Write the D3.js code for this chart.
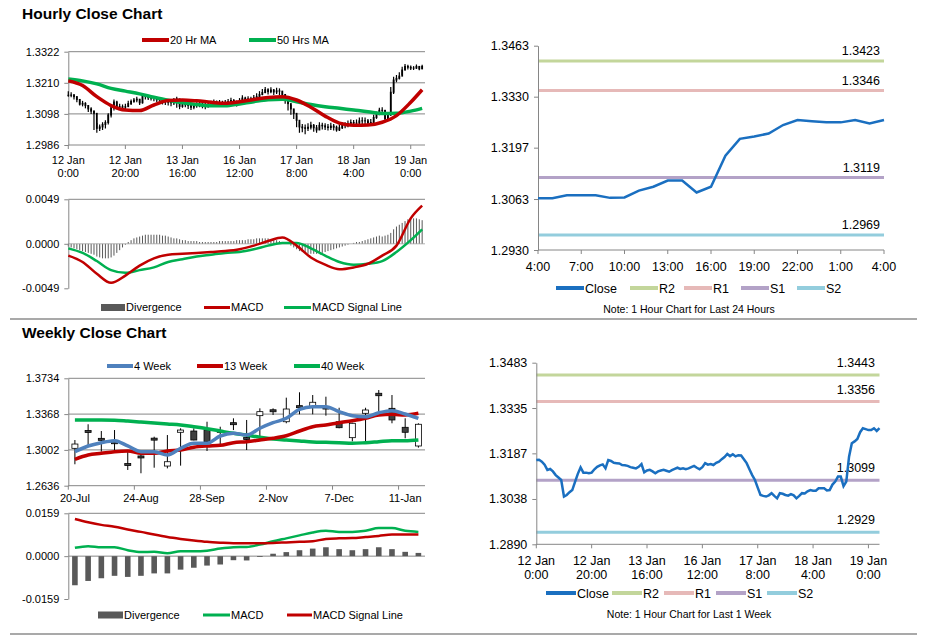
<!DOCTYPE html>
<html><head><meta charset="utf-8">
<script src="https://cdn.jsdelivr.net/npm/d3@7"></script>
<style>
html,body{margin:0;padding:0;background:#fff;}
svg{display:block;font-family:"Liberation Sans",Arial,sans-serif;}
</style></head><body>
<svg id="c" width="928" height="638"></svg>
<script>
// ---------------- DATA ----------------
const hourTickIndex = [0,20,40,60,80,100,120];
const hourTickLabels = [["12 Jan","0:00"],["12 Jan","20:00"],["13 Jan","16:00"],["16 Jan","12:00"],["17 Jan","8:00"],["18 Jan","4:00"],["19 Jan","0:00"]];
const hourlyClose = [
1.3165,1.3166,1.3160,1.3150,1.3133,1.3136,1.3128,1.3116,1.3108,1.3100,
1.3046,1.3051,1.3060,1.3067,1.3094,1.3120,1.3141,1.3124,1.3124,1.3122,
1.3124,1.3135,1.3143,1.3148,1.3151,1.3138,1.3165,1.3162,1.3156,1.3155,
1.3154,1.3149,1.3148,1.3146,1.3142,1.3140,1.3138,1.3143,1.3152,1.3125,
1.3131,1.3133,1.3128,1.3122,1.3128,1.3131,1.3133,1.3130,1.3127,1.3132,
1.3136,1.3140,1.3136,1.3138,1.3135,1.3138,1.3142,1.3146,1.3140,1.3135,
1.3142,1.3155,1.3150,1.3152,1.3149,1.3156,1.3160,1.3168,1.3175,1.3185,
1.3178,1.3184,1.3177,1.3181,1.3180,1.3168,1.3155,1.3135,1.3116,1.3100,
1.3075,1.3051,1.3048,1.3046,1.3050,1.3057,1.3048,1.3040,1.3057,1.3055,
1.3051,1.3049,1.3054,1.3050,1.3040,1.3048,1.3057,1.3056,1.3063,1.3067,
1.3065,1.3065,1.3073,1.3073,1.3073,1.3066,1.3067,1.3085,1.3095,1.3111,
1.3111,1.3080,1.3095,1.3176,1.3220,1.3226,1.3234,1.3256,1.3269,1.3266,
1.3263,1.3263,1.3269,1.3260,1.3269];
const hourlyHigh = [
1.3180,1.3176,1.3170,1.3162,1.3152,1.3145,1.3140,1.3130,1.3122,1.3110,
1.3065,1.3060,1.3068,1.3075,1.3100,1.3128,1.3150,1.3145,1.3135,1.3132,
1.3135,1.3145,1.3150,1.3155,1.3160,1.3152,1.3168,1.3170,1.3165,1.3162,
1.3160,1.3158,1.3156,1.3155,1.3152,1.3150,1.3148,1.3155,1.3160,1.3140,
1.3140,1.3142,1.3138,1.3132,1.3136,1.3140,1.3142,1.3140,1.3138,1.3142,
1.3145,1.3150,1.3146,1.3148,1.3145,1.3148,1.3152,1.3156,1.3152,1.3146,
1.3155,1.3165,1.3160,1.3162,1.3160,1.3166,1.3172,1.3180,1.3188,1.3195,
1.3190,1.3194,1.3188,1.3192,1.3190,1.3180,1.3168,1.3150,1.3130,1.3115,
1.3090,1.3068,1.3062,1.3060,1.3064,1.3070,1.3062,1.3058,1.3068,1.3066,
1.3064,1.3062,1.3066,1.3062,1.3056,1.3060,1.3068,1.3068,1.3074,1.3078,
1.3076,1.3078,1.3085,1.3086,1.3085,1.3080,1.3080,1.3095,1.3106,1.3120,
1.3122,1.3112,1.3105,1.3195,1.3232,1.3238,1.3248,1.3268,1.3278,1.3275,
1.3272,1.3270,1.3276,1.3270,1.3275];
const hourlyLow = [
1.3160,1.3158,1.3150,1.3140,1.3128,1.3125,1.3118,1.3105,1.3098,1.3040,
1.3030,1.3036,1.3040,1.3045,1.3060,1.3085,1.3110,1.3115,1.3112,1.3110,
1.3115,1.3125,1.3130,1.3138,1.3140,1.3130,1.3135,1.3150,1.3148,1.3146,
1.3144,1.3140,1.3138,1.3132,1.3130,1.3128,1.3126,1.3130,1.3120,1.3115,
1.3120,1.3122,1.3116,1.3112,1.3115,1.3120,1.3122,1.3118,1.3115,1.3120,
1.3126,1.3128,1.3125,1.3127,1.3124,1.3126,1.3130,1.3135,1.3128,1.3125,
1.3130,1.3140,1.3138,1.3140,1.3138,1.3145,1.3150,1.3158,1.3165,1.3172,
1.3168,1.3172,1.3166,1.3170,1.3165,1.3150,1.3135,1.3110,1.3095,1.3080,
1.3050,1.3030,1.3032,1.3025,1.3036,1.3042,1.3034,1.3030,1.3040,1.3042,
1.3040,1.3038,1.3040,1.3038,1.3034,1.3036,1.3044,1.3046,1.3050,1.3055,
1.3052,1.3054,1.3060,1.3062,1.3060,1.3055,1.3056,1.3066,1.3080,1.3095,
1.3098,1.3070,1.3075,1.3090,1.3170,1.3212,1.3222,1.3238,1.3255,1.3258,
1.3256,1.3256,1.3260,1.3255,1.3260];
const maIndex = [0,5,10,15,20,25,30,35,40,45,50,55,60,65,70,75,80,85,90,95,100,105,110,115,120,124];
const ma20Hr = [1.3217,1.3200,1.3160,1.3128,1.3112,1.3110,1.3130,1.3146,1.3148,1.3145,1.3140,1.3136,1.3142,1.3150,1.3157,1.3160,1.3148,1.3122,1.3090,1.3065,1.3057,1.3058,1.3068,1.3092,1.3140,1.3185];
const ma50Hr = [1.3224,1.3217,1.3206,1.3190,1.3180,1.3170,1.3158,1.3147,1.3138,1.3132,1.3127,1.3127,1.3134,1.3142,1.3149,1.3151,1.3142,1.3132,1.3124,1.3118,1.3112,1.3106,1.3099,1.3100,1.3108,1.3118];
const hourlyMacd = [-0.0013,-0.0020,-0.0033,-0.0043,-0.0035,-0.0024,-0.0016,-0.0012,-0.0011,-0.0010,-0.0009,-0.0008,-0.0006,-0.0002,0.0003,0.0007,-0.0002,-0.0015,-0.0023,-0.0028,-0.0026,-0.0022,-0.0013,-0.0002,0.0028,0.0042];
const hourlySignal = [-0.0005,-0.0010,-0.0019,-0.0029,-0.0032,-0.0029,-0.0026,-0.0020,-0.0017,-0.0014,-0.0012,-0.0010,-0.0009,-0.0006,-0.0002,0.0001,0.0001,-0.0005,-0.0013,-0.0020,-0.0023,-0.0022,-0.0019,-0.0009,0.0004,0.0016];
const hourlyDivergence = [
-0.0003,-0.0004,-0.0005,-0.0006,-0.0007,-0.0008,-0.0009,-0.0010,-0.0011,-0.0012,
-0.0014,-0.0015,-0.0016,-0.0016,-0.0016,-0.0015,-0.0013,-0.0010,-0.0007,-0.0004,
-0.0001,0.0002,0.0004,0.0006,0.0007,0.0008,0.0009,0.0010,0.0010,0.0010,
0.0010,0.0010,0.0010,0.0009,0.0009,0.0008,0.0007,0.0006,0.0006,0.0005,
0.0004,0.0004,0.0003,0.0003,0.0003,0.0003,0.0002,0.0002,0.0002,0.0002,
0.0002,0.0002,0.0002,0.0003,0.0003,0.0003,0.0003,0.0003,0.0003,0.0004,
0.0004,0.0004,0.0004,0.0005,0.0005,0.0005,0.0006,0.0006,0.0006,0.0006,
0.0006,0.0005,0.0005,0.0004,0.0003,0.0002,0.0001,0.0000,-0.0002,-0.0004,
-0.0006,-0.0008,-0.0009,-0.0010,-0.0011,-0.0011,-0.0011,-0.0011,-0.0010,-0.0010,
-0.0009,-0.0008,-0.0007,-0.0006,-0.0005,-0.0004,-0.0003,-0.0002,-0.0001,0.0000,
0.0001,0.0002,0.0002,0.0003,0.0004,0.0005,0.0006,0.0007,0.0008,0.0009,
0.0008,0.0009,0.0010,0.0012,0.0016,0.0019,0.0021,0.0023,0.0025,0.0027,
0.0028,0.0028,0.0028,0.0027,0.0026];
const hourlyTicks = [1.2986,1.3098,1.3210,1.3322];
const hourlyMacdTicks = [-0.0049,0,0.0049];

const dayStartIndex = 100;
const dayTickIndex = [0,3,6,9,12,15,18,21,24];
const dayTickLabels = ["4:00","7:00","10:00","13:00","16:00","19:00","22:00","1:00","4:00"];
const dayTicks = [1.2930,1.3063,1.3197,1.3330,1.3463];
const levelNames = ["R2","R1","S1","S2"];
const dayLevels = [1.3423,1.3346,1.3119,1.2969];
const weekLevels = [1.3443,1.3356,1.3099,1.2929];
const weekHourTicks = [1.2890,1.3038,1.3187,1.3335,1.3483];

const weekCategories = ["20-Jul","27-Jul","3-Aug","10-Aug","17-Aug","24-Aug","31-Aug","7-Sep","14-Sep","21-Sep","28-Sep","5-Oct","12-Oct","19-Oct","26-Oct","2-Nov","9-Nov","16-Nov","23-Nov","30-Nov","7-Dec","14-Dec","21-Dec","28-Dec","4-Jan","11-Jan","18-Jan"];
const weekLabelEvery = 5;
const weekOpen  = [1.3018,1.3190,1.3110,1.3100,1.2852,1.2930,1.3112,1.2837,1.3182,1.3195,1.3205,1.3192,1.3270,1.3118,1.3352,1.3402,1.3290,1.3444,1.3444,1.3430,1.3290,1.3127,1.3376,1.3581,1.3427,1.3233,1.3042];
const weekHigh  = [1.3103,1.3264,1.3195,1.3205,1.2984,1.2984,1.3137,1.3154,1.3223,1.3223,1.3290,1.3239,1.3325,1.3308,1.3427,1.3427,1.3536,1.3591,1.3563,1.3546,1.3433,1.3280,1.3433,1.3614,1.3563,1.3325,1.3274];
const weekLow   = [1.2855,1.3035,1.2984,1.3001,1.2797,1.2763,1.2820,1.2813,1.2841,1.3100,1.2991,1.3052,1.3205,1.3001,1.3137,1.3359,1.3274,1.3366,1.3366,1.3352,1.3223,1.3090,1.3086,1.3400,1.3274,1.3121,1.3025];
const weekClose = [1.3062,1.3185,1.3090,1.3065,1.2845,1.2922,1.3105,1.2881,1.3205,1.3103,1.3086,1.3185,1.3264,1.3110,1.3393,1.3397,1.3420,1.3436,1.3489,1.3425,1.3229,1.3274,1.3410,1.3556,1.3308,1.3182,1.3264];
const ma4Week  = [1.2984,1.3042,1.3076,1.3096,1.3042,1.2984,1.2984,1.2950,1.3018,1.3069,1.3069,1.3144,1.3172,1.3154,1.3223,1.3280,1.3325,1.3417,1.3444,1.3444,1.3393,1.3352,1.3341,1.3382,1.3403,1.3369,1.3325];
const ma13Week = [1.2906,1.2950,1.2967,1.2984,1.2991,1.2967,1.2967,1.2991,1.3001,1.3029,1.3042,1.3049,1.3076,1.3086,1.3103,1.3121,1.3147,1.3195,1.3239,1.3257,1.3280,1.3300,1.3325,1.3359,1.3366,1.3359,1.3376];
const ma40Week = [1.3308,1.3308,1.3308,1.3306,1.3297,1.3287,1.3277,1.3267,1.3257,1.3239,1.3219,1.3195,1.3172,1.3154,1.3131,1.3113,1.3103,1.3093,1.3083,1.3079,1.3076,1.3069,1.3076,1.3086,1.3096,1.3096,1.3103];
const weeklyMacd = [0.0031,0.0037,0.0033,0.0033,0.0022,0.0015,0.0016,0.0011,0.0018,0.0018,0.0020,0.0028,0.0033,0.0034,0.0043,0.0055,0.0066,0.0077,0.0088,0.0094,0.0090,0.0090,0.0094,0.0104,0.0104,0.0094,0.0090];
const weeklySignal = [0.0138,0.0126,0.0116,0.0109,0.0099,0.0090,0.0080,0.0071,0.0064,0.0058,0.0053,0.0050,0.0048,0.0048,0.0048,0.0049,0.0051,0.0053,0.0055,0.0064,0.0066,0.0067,0.0071,0.0075,0.0080,0.0080,0.0080];
const weeklyDivergence = [-0.0108,-0.0092,-0.0082,-0.0073,-0.0077,-0.0073,-0.0064,-0.0064,-0.0050,-0.0043,-0.0035,-0.0031,-0.0015,-0.0016,-0.0003,0.0009,0.0015,0.0022,0.0028,0.0033,0.0026,0.0022,0.0026,0.0033,0.0026,0.0016,0.0012];
const weeklyTicks = [1.2636,1.3002,1.3368,1.3734];
const weeklyMacdTicks = [-0.0159,0,0.0159];

// ---------------- STYLE ----------------
const RED = "#c00000", GREEN = "#00b050", BLUE4 = "#4f81bd", CLOSE = "#1a6fc0", AX = "#868686";
const levelColors = ["#c3d69b","#e6b9b8","#b3a2c7","#93cddd"];
const fmt4 = d => d.toFixed(4);

const svg = d3.select("#c");
svg.append("rect").attr("width",928).attr("height",638).attr("fill","#fff");

function yAxis(scale, ticks, x, fs) {
  const g = svg.append("g").attr("transform", `translate(${x},0)`);
  g.call(d3.axisLeft(scale).tickValues(ticks).tickFormat(fmt4).tickSize(4).tickSizeOuter(0).tickPadding(5));
  g.select(".domain").attr("stroke", AX);
  g.selectAll(".tick line").attr("stroke", AX);
  g.selectAll(".tick text").attr("fill","#000").attr("font-size", fs).attr("font-family",'"Liberation Sans",Arial,sans-serif');
  return g;
}
function hline(y, x1, x2, color, w) {
  svg.append("line").attr("x1",x1).attr("x2",x2).attr("y1",y).attr("y2",y).attr("stroke",color).attr("stroke-width",w);
}
function text(x, y, s, fs, anchor, weight) {
  return svg.append("text").attr("x",x).attr("y",y).attr("font-size",fs).attr("text-anchor",anchor||"start")
    .attr("font-weight",weight||"normal").attr("fill","#000").text(s);
}
function legendLine(x1, x2, y, color, w, label, fs) {
  hline(y, x1, x2, color, w);
  text(x2 + 1, y + fs*0.36, label, fs);
}
function legendBar(x1, x2, y, color, label, fs) {
  svg.append("rect").attr("x",x1).attr("y",y-3.5).attr("width",x2-x1).attr("height",7).attr("fill",color);
  text(x2 + 1, y + fs*0.36, label, fs);
}

// ---------------- TITLES / SEPARATORS ----------------
text(22, 19, "Hourly Close Chart", 15.5, "start", "bold");
text(22, 338, "Weekly Close Chart", 15.5, "start", "bold");
hline(319, 10, 917, "#8c8c8c", 1.5);
hline(634, 10, 917, "#8c8c8c", 1.5);

// ---------------- PANEL 1: hourly candles ----------------
const xH = d3.scaleLinear().domain([0,125]).range([68.3,425]);
const yH = d3.scaleLinear().domain([hourlyTicks[0], hourlyTicks[hourlyTicks.length-1]]).range([145,51.7]);
hourlyTicks.forEach(t => hline(yH(t), xH(0), xH(125), AX, 1));
yAxis(yH, hourlyTicks, xH(0), 11);
hourTickIndex.forEach((ti,k) => {
  svg.append("line").attr("x1",xH(ti)).attr("x2",xH(ti)).attr("y1",145).attr("y2",149).attr("stroke",AX);
  text(xH(ti), 164, hourTickLabels[k][0], 11, "middle");
  text(xH(ti), 176.5, hourTickLabels[k][1], 11, "middle");
});
svg.append("g").selectAll("line").data(hourlyClose).join("line")
  .attr("x1",(d,i)=>xH(i)).attr("x2",(d,i)=>xH(i))
  .attr("y1",(d,i)=>yH(hourlyHigh[i])).attr("y2",(d,i)=>yH(hourlyLow[i]))
  .attr("stroke","#000").attr("stroke-width",1.2);
svg.append("g").selectAll("rect").data(hourlyClose).join("rect")
  .attr("x",(d,i)=>xH(i)-0.9).attr("width",1.8)
  .attr("y",(d,i)=>yH(Math.max(d, i?hourlyClose[i-1]:d))-0.5)
  .attr("height",(d,i)=>Math.abs(yH(d)-yH(i?hourlyClose[i-1]:d))+1)
  .attr("fill","#000");
const maLine = (xs, ys, vals) => d3.line().x((d,i)=>xs(maIndex[i])).y(d=>ys(d)).curve(d3.curveMonotoneX)(vals);
svg.append("path").attr("d", maLine(xH, yH, ma50Hr)).attr("fill","none").attr("stroke",GREEN).attr("stroke-width",3.5);
svg.append("path").attr("d", maLine(xH, yH, ma20Hr)).attr("fill","none").attr("stroke",RED).attr("stroke-width",3.5);
legendLine(142, 169, 40, RED, 4, "20 Hr MA", 11);
legendLine(249, 276, 40, GREEN, 4, "50 Hrs MA", 11);

// ---------------- PANEL 2: hourly MACD ----------------
const yHM = d3.scaleLinear().domain([-0.0049,0.0049]).range([288.3,199.3]);
hline(yHM(0.0049), xH(0), xH(125), AX, 1);
svg.append("g").selectAll("rect").data(hourlyDivergence).join("rect")
  .attr("x",(d,i)=>xH(i)-0.5).attr("width",1)
  .attr("y",d=>yHM(Math.max(0,d))).attr("height",d=>Math.abs(yHM(d)-yHM(0)))
  .attr("fill","#595959");
hline(yHM(0), xH(0), xH(125), "#a0a0a0", 0.8);
yAxis(yHM, hourlyMacdTicks, xH(0), 11);
svg.append("path").attr("d", maLine(xH, yHM, hourlySignal)).attr("fill","none").attr("stroke",GREEN).attr("stroke-width",2.5);
svg.append("path").attr("d", maLine(xH, yHM, hourlyMacd)).attr("fill","none").attr("stroke",RED).attr("stroke-width",2.5);
legendBar(101, 125, 307.5, "#595959", "Divergence", 11);
legendLine(204, 230, 307.5, RED, 3, "MACD", 11);
legendLine(284, 311, 307.5, GREEN, 3, "MACD Signal Line", 11);

// ---------------- PANEL 3: last 24 hours ----------------
const dayClose = hourlyClose.slice(dayStartIndex);
const xD = d3.scaleLinear().domain([0,24]).range([538,884]);
const yD = d3.scaleLinear().domain([dayTicks[0], dayTicks[dayTicks.length-1]]).range([250,45.7]);
dayLevels.forEach((v,k) => {
  hline(yD(v), xD(0), xD(24), levelColors[k], 3);
  text(880, yD(v)-6, fmt4(v), 12.5, "end");
});
yAxis(yD, dayTicks, xD(0), 12.5);
hline(250, xD(0), xD(24), AX, 1);
dayTickIndex.forEach((ti,k) => {
  svg.append("line").attr("x1",xD(ti)).attr("x2",xD(ti)).attr("y1",250).attr("y2",254).attr("stroke",AX);
  text(xD(ti), 270.5, dayTickLabels[k], 12.5, "middle");
});
svg.append("path").attr("d", d3.line().x((d,i)=>xD(i)).y(d=>yD(d))(dayClose))
  .attr("fill","none").attr("stroke",CLOSE).attr("stroke-width",2.5);
legendLine(556, 584, 288, CLOSE, 4, "Close", 12.5);
levelNames.forEach((n,k) => {
  const xs = [630, 684, 741, 797];
  legendLine(xs[k], xs[k]+28, 288, levelColors[k], 4, n, 12.5);
});
text(689, 313, "Note: 1 Hour Chart for Last 24 Hours", 10.5, "middle");

// ---------------- PANEL 4: weekly candles ----------------
const xW = d3.scaleBand().domain(d3.range(weekCategories.length)).range([68.3,425]);
const cx = i => xW(i) + xW.bandwidth()/2;
const yW = d3.scaleLinear().domain([weeklyTicks[0], weeklyTicks[weeklyTicks.length-1]]).range([485.7,378.3]);
weeklyTicks.forEach(t => hline(yW(t), 68.3, 425, AX, 1));
yAxis(yW, weeklyTicks, 68.3, 11);
weekCategories.forEach((c,i) => {
  if (i % weekLabelEvery === 0) {
    svg.append("line").attr("x1",xW(i)).attr("x2",xW(i)).attr("y1",485.7).attr("y2",489.7).attr("stroke",AX);
    text(cx(i), 502, c, 11, "middle");
  }
});
const cg = svg.append("g");
weekClose.forEach((c,i) => {
  const o = weekOpen[i];
  cg.append("line").attr("x1",cx(i)).attr("x2",cx(i)).attr("y1",yW(weekHigh[i])).attr("y2",yW(weekLow[i]))
    .attr("stroke","#000").attr("stroke-width",1);
  const top = yW(Math.max(o,c)), h = Math.max(2, Math.abs(yW(o)-yW(c)));
  cg.append("rect").attr("x",cx(i)-3).attr("width",6).attr("y",top - (h>2?0:1)).attr("height",h)
    .attr("fill", c > o ? "#fff" : "#404040").attr("stroke","#000").attr("stroke-width",0.8);
});
const wLine = vals => d3.line().x((d,i)=>cx(i)).y(d=>yW(d)).curve(d3.curveMonotoneX)(vals);
svg.append("path").attr("d", wLine(ma40Week)).attr("fill","none").attr("stroke",GREEN).attr("stroke-width",3.5);
svg.append("path").attr("d", wLine(ma13Week)).attr("fill","none").attr("stroke",RED).attr("stroke-width",3.5);
svg.append("path").attr("d", wLine(ma4Week)).attr("fill","none").attr("stroke",BLUE4).attr("stroke-width",3.5);
legendLine(107, 133, 366, BLUE4, 4, "4 Week", 11);
legendLine(197, 223, 366, RED, 4, "13 Week", 11);
legendLine(294, 320, 366, GREEN, 4, "40 Week", 11);

// ---------------- PANEL 5: weekly MACD ----------------
const yWM = d3.scaleLinear().domain([-0.0159,0.0159]).range([599,513.3]);
hline(yWM(0.0159), 68.3, 425, AX, 1);
hline(yWM(0), 68.3, 425, AX, 1);
svg.append("g").selectAll("rect").data(weeklyDivergence).join("rect")
  .attr("x",(d,i)=>cx(i)-2.8).attr("width",5.6)
  .attr("y",d=>yWM(Math.max(0,d))).attr("height",d=>Math.abs(yWM(d)-yWM(0)))
  .attr("fill","#595959");
yAxis(yWM, weeklyMacdTicks, 68.3, 11);
const wmLine = vals => d3.line().x((d,i)=>cx(i)).y(d=>yWM(d)).curve(d3.curveMonotoneX)(vals);
svg.append("path").attr("d", wmLine(weeklyMacd)).attr("fill","none").attr("stroke",GREEN).attr("stroke-width",2.5);
svg.append("path").attr("d", wmLine(weeklySignal)).attr("fill","none").attr("stroke",RED).attr("stroke-width",2.5);
legendBar(98, 123, 615, "#595959", "Divergence", 11);
legendLine(203, 230, 615, GREEN, 3, "MACD", 11);
legendLine(287, 312, 615, RED, 3, "MACD Signal Line", 11);

// ---------------- PANEL 6: last 1 week hourly ----------------
const xB = d3.scaleLinear().domain([0,124]).range([536.3,879.5]);
const yB = d3.scaleLinear().domain([weekHourTicks[0], weekHourTicks[weekHourTicks.length-1]]).range([544.3,362.7]);
weekLevels.forEach((v,k) => {
  hline(yB(v), xB(0), xB(124), levelColors[k], 3);
  text(875, yB(v)-8, fmt4(v), 12.5, "end");
});
yAxis(yB, weekHourTicks, xB(0), 12.5);
hline(544.3, xB(0), xB(124), AX, 1);
hourTickIndex.forEach((ti,k) => {
  svg.append("line").attr("x1",xB(ti)).attr("x2",xB(ti)).attr("y1",544.3).attr("y2",548.3).attr("stroke",AX);
  text(xB(ti), 564.5, hourTickLabels[k][0], 12.5, "middle");
  text(xB(ti), 578.5, hourTickLabels[k][1], 12.5, "middle");
});
svg.append("path").attr("d", d3.line().x((d,i)=>xB(i)).y(d=>yB(d))(hourlyClose))
  .attr("fill","none").attr("stroke",CLOSE).attr("stroke-width",2.5);
legendLine(546, 576, 593, CLOSE, 4, "Close", 12.5);
levelNames.forEach((n,k) => {
  const xs = [612, 664, 716, 767];
  legendLine(xs[k], xs[k]+30, 593, levelColors[k], 4, n, 12.5);
});
text(689, 618, "Note: 1 Hour Chart for  Last 1 Week", 10.5, "middle");
</script>
</body></html>
